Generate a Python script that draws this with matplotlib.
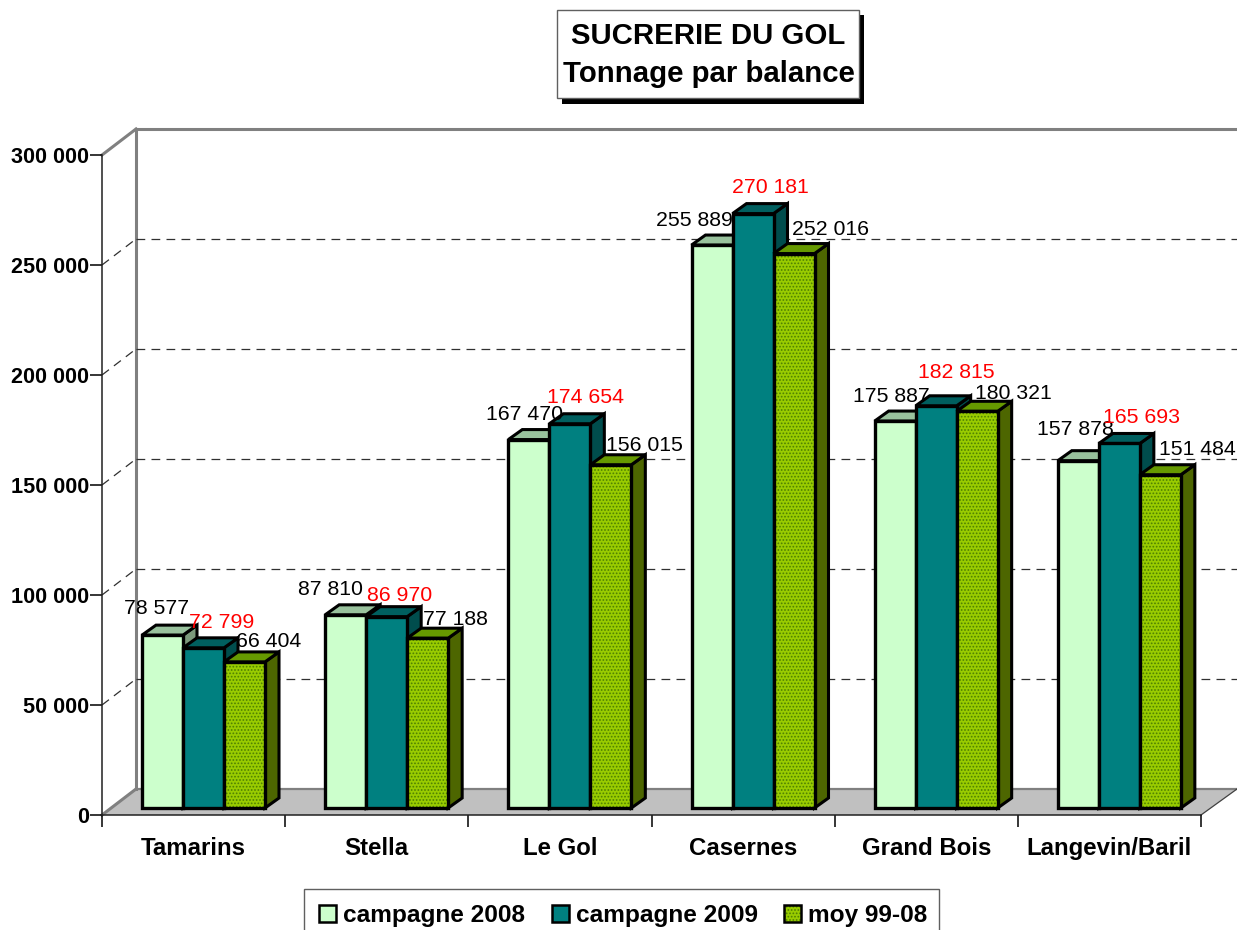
#!/usr/bin/env python3
# -*- coding: utf-8 -*-

import matplotlib
matplotlib.use('Agg')
import matplotlib.pyplot as plt
from matplotlib.patches import Polygon, Rectangle

plt.rcParams['font.family'] = ['Liberation Sans', 'DejaVu Sans']
plt.rcParams['hatch.linewidth'] = 0.8

balances = ['Tamarins', 'Stella', 'Le Gol', 'Casernes', 'Grand Bois', 'Langevin/Baril']
campagne_2008 = [78577, 87810, 167470, 255889, 175887, 157878]
campagne_2009 = [72799, 86970, 174654, 270181, 182815, 165693]
moy_99_08 = [66404, 77188, 156015, 252016, 180321, 151484]
y_ticks = [0, 50000, 100000, 150000, 200000, 250000, 300000]

series_names = ['campagne 2008', 'campagne 2009', 'moy 99-08']
series_values = [campagne_2008, campagne_2009, moy_99_08]
front_colors = ['#ccffcc', '#008080', '#99cc00']
top_colors = ['#99c29d', '#005f5f', '#669900']
side_colors = ['#7c9a7c', '#004d4d', '#4d6600']
label_colors = ['black', 'red', 'black']

# pixel shift of each value label from the top centre of its bar
label_dx = [[-6, -15, -4, -18, -4, -3], [18, 13, 16, 17, 20, 22], [24, 28, 34, 37, 36, 37]]
label_dy = [[27, 25, 25, 25, 25, 31], [25, 21, 26, 26, 33, 26], [20, 19, 19, 24, 18, 25]]

W, H = 1237, 930
fig = plt.figure(figsize=(W / 100, H / 100), dpi=100)
ax = fig.add_axes([102 / W, (H - 815) / H, 1099 / W, 660 / H])
ax.set_xlim(0, 6)
ax.set_ylim(0, 300000)
ax.patch.set_alpha(0)

PX = 6 / 1099.0      # data x per pixel
PY = 300000 / 660.0  # data y per pixel


def px(n):
    return n * PX


def py(n):
    return n * PY


wall_x, wall_y = px(34), py(26)
dep_x, dep_y = px(14), py(10)
lift = py(7)
bar_w = px(41)
bar_start = px(40)
grey = '#808080'

# floor and walls
ax.add_patch(Polygon([(0, 0), (wall_x, wall_y), (6 + px(36), wall_y), (6, 0)],
                     closed=True, fc='#c0c0c0', ec='none', clip_on=False, zorder=1))
ax.plot([wall_x, 6 + px(36)], [wall_y, wall_y], color=grey, lw=1.6, clip_on=False, zorder=1.5)
ax.plot([6, 6 + px(36)], [0, wall_y], color='#404040', lw=0.9, clip_on=False, zorder=1.5)
ax.plot([wall_x, wall_x], [wall_y, 300000 + wall_y], color=grey, lw=2.2, clip_on=False, zorder=1.5)
ax.plot([wall_x, 6 + px(36)], [300000 + wall_y] * 2, color=grey, lw=2.2, clip_on=False, zorder=1.5)
ax.plot([0, wall_x], [300000, 300000 + wall_y], color=grey, lw=2.2, clip_on=False, zorder=1.5)
ax.plot([0, wall_x], [0, wall_y], color=grey, lw=2.2, clip_on=False, zorder=1.5)

for t in y_ticks[1:-1]:
    ax.plot([wall_x, 6 + px(36)], [t + wall_y] * 2, color='#303030', lw=0.9,
            dashes=(7, 5), clip_on=False, zorder=1.5)
    ax.plot([0, wall_x], [t, t + wall_y], color='#303030', lw=0.9,
            dashes=(7, 5), clip_on=False, zorder=1.5)

z = 3
for i in range(len(balances)):
    for k in range(3):
        v = series_values[k][i]
        x0 = i + bar_start + k * bar_w
        x1 = x0 + bar_w
        top = v + lift
        ax.add_patch(Polygon([(x1, lift), (x1 + dep_x, lift + dep_y), (x1 + dep_x, top + dep_y), (x1, top)],
                             closed=True, fc=side_colors[k], ec='black', lw=2.2, clip_on=False, zorder=z))
        ax.add_patch(Polygon([(x0, top), (x0 + dep_x, top + dep_y), (x1 + dep_x, top + dep_y), (x1, top)],
                             closed=True, fc=top_colors[k], ec='black', lw=2.2, clip_on=False, zorder=z))
        if k == 2:
            ax.bar(x0, v, bar_w, bottom=lift, align='edge', color=front_colors[k],
                   edgecolor='#4d8000', hatch='.....', linewidth=0, zorder=z)
            ax.bar(x0, v, bar_w, bottom=lift, align='edge', fill=False,
                   edgecolor='black', linewidth=2.4, zorder=z)
        else:
            ax.bar(x0, v, bar_w, bottom=lift, align='edge', color=front_colors[k],
                   edgecolor='black', linewidth=2.4, zorder=z)
        z += 0.1

for i in range(len(balances)):
    for k in range(3):
        v = series_values[k][i]
        xc = i + bar_start + (k + 0.5) * bar_w
        ax.annotate(f'{v:,}'.replace(',', ' '), xy=(xc, v + lift),
                    xytext=(label_dx[k][i], label_dy[k][i]), textcoords='offset pixels',
                    ha='center', va='center', fontsize=15.3, color=label_colors[k],
                    annotation_clip=False, zorder=20)

for s in ['top', 'right']:
    ax.spines[s].set_visible(False)
for s in ['left', 'bottom']:
    ax.spines[s].set_color('#202020')
    ax.spines[s].set_linewidth(1.1)
    ax.spines[s].set_zorder(2)

ax.set_yticks(y_ticks)
ax.set_yticklabels([f'{t:,}'.replace(',', ' ') for t in y_ticks], fontsize=15.6, fontweight='bold')
ax.tick_params(axis='y', length=8.5, width=1.1, pad=1)
ax.set_xticks(range(7))
ax.set_xticklabels([])
ax.tick_params(axis='x', which='major', length=8.5, width=1.1)
ax.set_xticks([i + 0.5 for i in range(6)], minor=True)
ax.set_xticklabels(balances, minor=True, fontsize=17.3, fontweight='bold')
ax.tick_params(axis='x', which='minor', length=0, pad=16)

# title box and legend, in pixels of the picture
deco = fig.add_axes([0, 0, 1, 1], zorder=5)
deco.set_xlim(0, W)
deco.set_ylim(H, 0)
deco.axis('off')
deco.add_patch(Rectangle((562, 15), 302, 89, fc='black', ec='none'))
deco.add_patch(Rectangle((557, 10), 302, 88, fc='white', ec='#606060', lw=1))
deco.text(708.5, 36, 'SUCRERIE DU GOL', ha='center', va='center', fontsize=21.2, fontweight='bold')
deco.text(708.5, 74, 'Tonnage par balance', ha='center', va='center', fontsize=21.2, fontweight='bold')

deco.add_patch(Rectangle((304, 889), 635, 60, fc='white', ec='#606060', lw=1))
leg_box_x = [319, 552, 784]
for k in range(3):
    if k == 2:
        deco.add_patch(Rectangle((leg_box_x[k], 905), 17, 17, fc=front_colors[k], ec='#4d8000',
                                 hatch='.....', lw=0))
        deco.add_patch(Rectangle((leg_box_x[k], 905), 17, 17, fill=False, ec='black', lw=1.8))
    else:
        deco.add_patch(Rectangle((leg_box_x[k], 905), 17, 17, fc=front_colors[k], ec='black', lw=1.8))
    deco.text(leg_box_x[k] + 24, 915, series_names[k], ha='left', va='center',
              fontsize=17.6, fontweight='bold')

fig.savefig('out.png', dpi=100, facecolor='white')
